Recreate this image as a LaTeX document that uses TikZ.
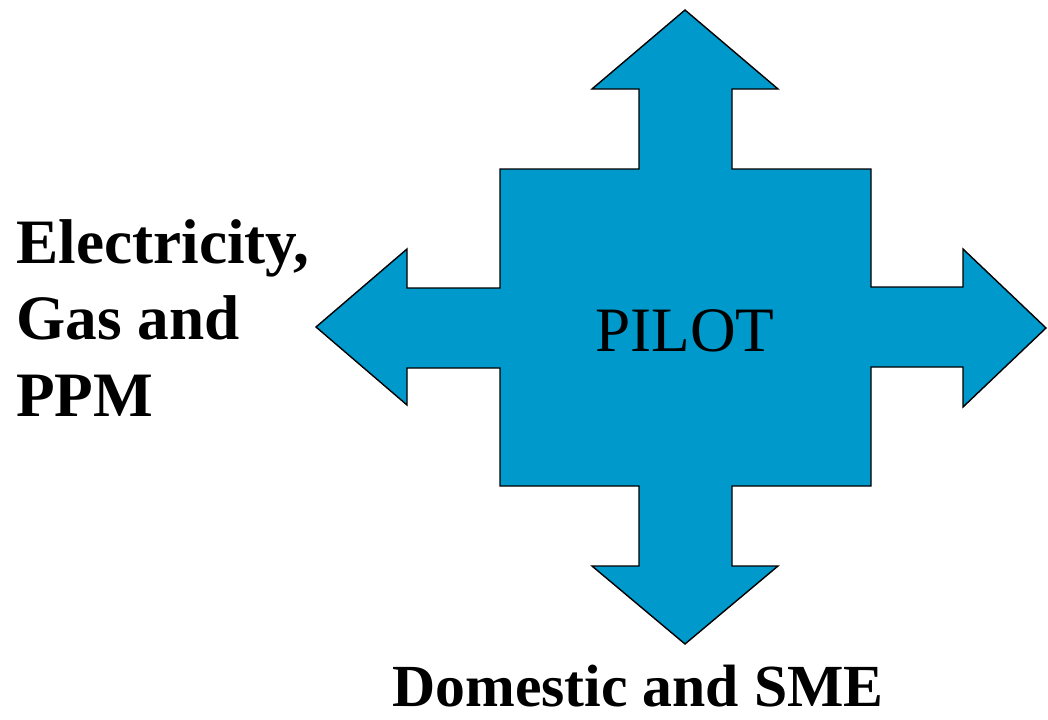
\documentclass[tikz,border=0pt]{standalone}
\usepackage{fontspec}
\setmainfont{Liberation Serif}
\usepackage{tikz}
\definecolor{pilotblue}{RGB}{0,153,204}

\begin{document}
\begin{tikzpicture}[x=0.02cm, y=-0.02cm,
cross/.style={draw=black, fill=pilotblue, line width=0.8pt, line join=miter},
label/.style={inner sep=0pt, font=\fontsize{36}{43.5}\selectfont\bfseries},
centre/.style={inner sep=0pt, font=\fontsize{36}{43.5}\selectfont}
]
\useasboundingbox (0,0) rectangle (1048,720);
%Shape
\draw[cross] (685,10) -- (778,89) -- (732,89) -- (732,169) -- (871,169)
  -- (871,287) -- (963,287) -- (963,249) -- (1046,328) -- (963,407)
  -- (963,367) -- (871,367) -- (871,486) -- (732,486) -- (732,566)
  -- (778,566) -- (685,644) -- (592,566) -- (639,566) -- (639,486)
  -- (500,486) -- (500,368) -- (407,368) -- (407,405) -- (316,327)
  -- (407,249) -- (407,288) -- (500,288) -- (500,169) -- (639,169)
  -- (639,89) -- (592,89) -- cycle;
%Nodes
\node[centre]    (pilot)   [anchor=base]        at (685,351) {PILOT};
\node[label, align=left] (fuels) [anchor=north west] at (16,219) {Electricity,\\Gas and\\PPM};
\node[label, font=\fontsize{34}{40}\selectfont\bfseries] (market) [anchor=base] at (638,706) {Domestic and SME};
\end{tikzpicture}
\end{document}
